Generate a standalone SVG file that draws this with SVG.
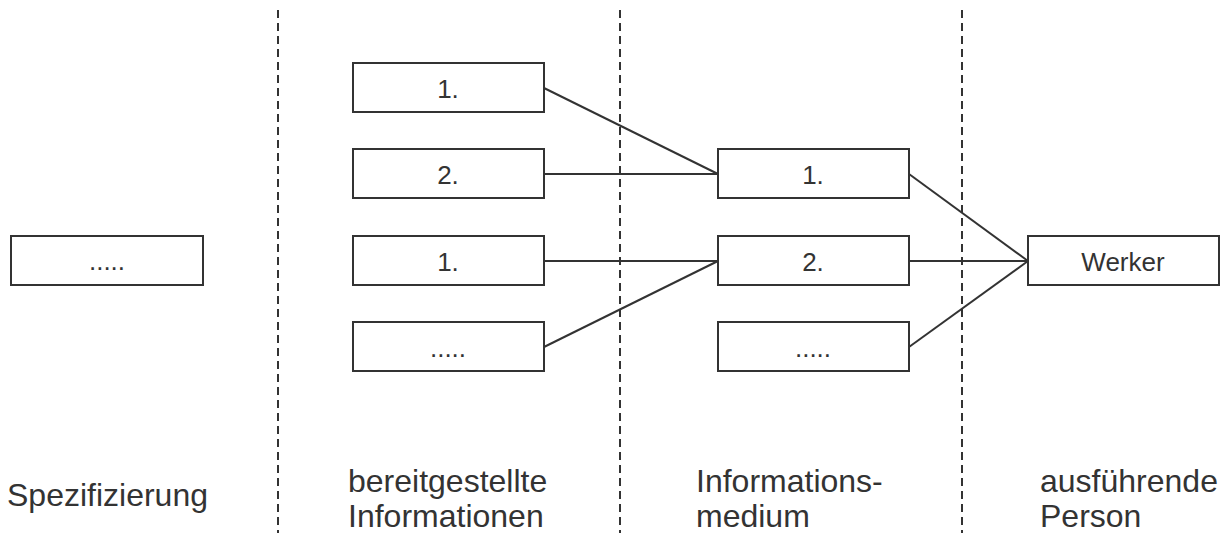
<svg xmlns="http://www.w3.org/2000/svg" width="1228" height="533" viewBox="0 0 1228 533">
  <style>
    .sep { stroke: #333; stroke-width: 2; stroke-dasharray: 8 5; fill: none; }
    .box rect { fill: #fff; stroke: #333; stroke-width: 2; }
    .box text { font-family: "Liberation Sans", Arial, sans-serif; font-size: 26px; fill: #333; text-anchor: middle; }
    .wire { stroke: #333; stroke-width: 2; fill: none; }
    .label { font-family: "Liberation Sans", Arial, sans-serif; font-size: 32px; fill: #333; }
  </style>
  <rect width="1228" height="533" fill="#fff"/>

  <!-- column separators -->
  <g id="separators">
    <line class="sep" x1="278" y1="10" x2="278" y2="533"/>
    <line class="sep" x1="620" y1="10" x2="620" y2="533"/>
    <line class="sep" x1="962" y1="10" x2="962" y2="533"/>
  </g>

  <!-- connectors -->
  <g id="connectors">
    <line class="wire" x1="544" y1="88" x2="718" y2="174"/>
    <line class="wire" x1="544" y1="174" x2="718" y2="174"/>
    <line class="wire" x1="544" y1="261" x2="718" y2="261"/>
    <line class="wire" x1="544" y1="347" x2="718" y2="261"/>
    <line class="wire" x1="909" y1="174" x2="1028" y2="261"/>
    <line class="wire" x1="909" y1="261" x2="1028" y2="261"/>
    <line class="wire" x1="909" y1="347" x2="1028" y2="261"/>
  </g>

  <!-- specification -->
  <g id="spec" class="box">
    <rect x="11" y="236" width="192" height="49"/>
    <text x="107" y="270">.....</text>
  </g>

  <!-- provided information -->
  <g id="info1" class="box">
    <rect x="353" y="63" width="191" height="49"/>
    <text x="448" y="98">1.</text>
  </g>
  <g id="info2" class="box">
    <rect x="353" y="149" width="191" height="49"/>
    <text x="448" y="184">2.</text>
  </g>
  <g id="info3" class="box">
    <rect x="353" y="236" width="191" height="49"/>
    <text x="448" y="271">1.</text>
  </g>
  <g id="info4" class="box">
    <rect x="353" y="322" width="191" height="49"/>
    <text x="448" y="357">.....</text>
  </g>

  <!-- information media -->
  <g id="medium1" class="box">
    <rect x="718" y="149" width="191" height="49"/>
    <text x="813" y="184">1.</text>
  </g>
  <g id="medium2" class="box">
    <rect x="718" y="236" width="191" height="49"/>
    <text x="813" y="271">2.</text>
  </g>
  <g id="medium3" class="box">
    <rect x="718" y="322" width="191" height="49"/>
    <text x="813" y="357">.....</text>
  </g>

  <!-- executing person -->
  <g id="worker" class="box">
    <rect x="1028" y="236" width="191" height="49"/>
    <text x="1123" y="271">Werker</text>
  </g>

  <!-- column labels -->
  <g id="labels">
    <text class="label" x="7" y="506">Spezifizierung</text>
    <text class="label" x="348" y="492">bereitgestellte</text>
    <text class="label" x="348" y="527">Informationen</text>
    <text class="label" x="696" y="492">Informations-</text>
    <text class="label" x="696" y="527">medium</text>
    <text class="label" x="1040" y="492">ausführende</text>
    <text class="label" x="1040" y="527">Person</text>
  </g>
</svg>
